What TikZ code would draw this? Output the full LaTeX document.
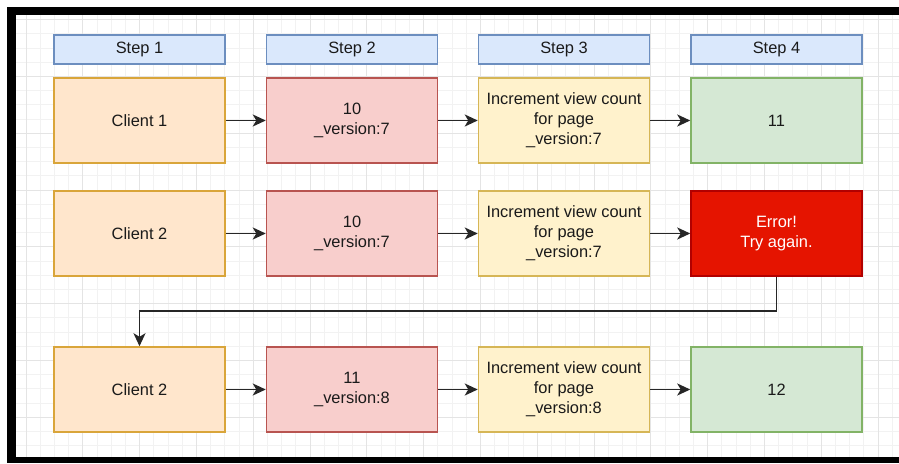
\documentclass[tikz,border=0pt]{standalone}
\usepackage{fontspec}
\setmainfont{Liberation Sans}
\usetikzlibrary{arrows.meta}
\definecolor{hdrfill}{HTML}{DAE8FC}\definecolor{hdrline}{HTML}{6C8EBF}
\definecolor{cltfill}{HTML}{FFE6CC}\definecolor{cltline}{HTML}{D9A53A}
\definecolor{redfill}{HTML}{F8CECC}\definecolor{redline}{HTML}{B85450}
\definecolor{ylwfill}{HTML}{FFF2CC}\definecolor{ylwline}{HTML}{D6B656}
\definecolor{grnfill}{HTML}{D5E8D4}\definecolor{grnline}{HTML}{82B366}
\definecolor{errfill}{HTML}{E51400}\definecolor{errline}{HTML}{B20000}
\definecolor{txt}{HTML}{1A1A1A}
\definecolor{gridminor}{HTML}{F2F2F2}\definecolor{gridmajor}{HTML}{E4E4E4}
\begin{document}
\begin{tikzpicture}[x=1pt,y=-1pt,
  every node/.style={font=\fontsize{16.4}{20}\selectfont, text=txt, align=center, inner sep=0pt},
  cell/.style={draw, line width=1.5pt, minimum width=171pt, minimum height=85pt},
  header/.style={draw=hdrline, fill=hdrfill, line width=1.5pt, minimum width=171pt, minimum height=29pt},
  client/.style={cell, draw=cltline, fill=cltfill},
  stored/.style={cell, draw=redline, fill=redfill},
  work/.style={cell, draw=ylwline, fill=ylwfill},
  done/.style={cell, draw=grnline, fill=grnfill},
  failed/.style={cell, draw=errline, fill=errfill, text=white},
  arr/.style={draw=black!85, line width=1.6pt, -{Stealth[length=13pt,width=12pt,inset=3.5pt]}}]
\useasboundingbox (0,0) rectangle (899,463);
% frame and canvas
\fill[black] (7,7) rectangle (899,463);
\fill[white] (16,15) rectangle (899,457);
\begin{scope}
  \clip (16,15) rectangle (899,457);
  \foreach \i in {0,...,62} {
    \draw[gridminor, line width=0.8pt] ({26+14.2*\i},15) -- ({26+14.2*\i},457);
  }
  \foreach \i in {0,...,31} {
    \draw[gridminor, line width=0.8pt] (16,{5.3+14.2*\i}) -- (899,{5.3+14.2*\i});
  }
  \foreach \i in {0,...,15} {
    \draw[gridmajor, line width=0.8pt] ({26+56.8*\i},15) -- ({26+56.8*\i},457);
  }
  \foreach \i in {0,...,8} {
    \draw[gridmajor, line width=0.8pt] (16,{19.5+56.8*\i}) -- (899,{19.5+56.8*\i});
  }
\end{scope}
% column headers
\node[header] (h1) at (139.5,49.5) {Step 1};
\node[header] (h2) at (352,49.5) {Step 2};
\node[header] (h3) at (564,49.5) {Step 3};
\node[header] (h4) at (776.5,49.5) {Step 4};
% first client
\node[client] (a1) at (139.5,120.5) {Client 1};
\node[stored] (a2) at (352,120.5) {10\\\_version:7};
\node[work]   (a3) at (564,120.5) {Increment view count\\for page\\\_version:7};
\node[done]   (a4) at (776.5,120.5) {11};
% second client, first attempt
\node[client] (b1) at (139.5,233.5) {Client 2};
\node[stored] (b2) at (352,233.5) {10\\\_version:7};
\node[work]   (b3) at (564,233.5) {Increment view count\\for page\\\_version:7};
\node[failed] (b4) at (776.5,233.5) {Error!\\Try again.};
% second client, retry
\node[client] (c1) at (139.5,389.5) {Client 2};
\node[stored] (c2) at (352,389.5) {11\\\_version:8};
\node[work]   (c3) at (564,389.5) {Increment view count\\for page\\\_version:8};
\node[done]   (c4) at (776.5,389.5) {12};
% flow arrows
\draw[arr] (a1) -- (a2);
\draw[arr] (a2) -- (a3);
\draw[arr] (a3) -- (a4);
\draw[arr] (b1) -- (b2);
\draw[arr] (b2) -- (b3);
\draw[arr] (b3) -- (b4);
\draw[arr] (c1) -- (c2);
\draw[arr] (c2) -- (c3);
\draw[arr] (c3) -- (c4);
% retry loop
\coordinate (retry) at (0,311);
\draw[arr] (b4.south) -- (b4.south |- retry) -| (c1.north);
\end{tikzpicture}
\end{document}
